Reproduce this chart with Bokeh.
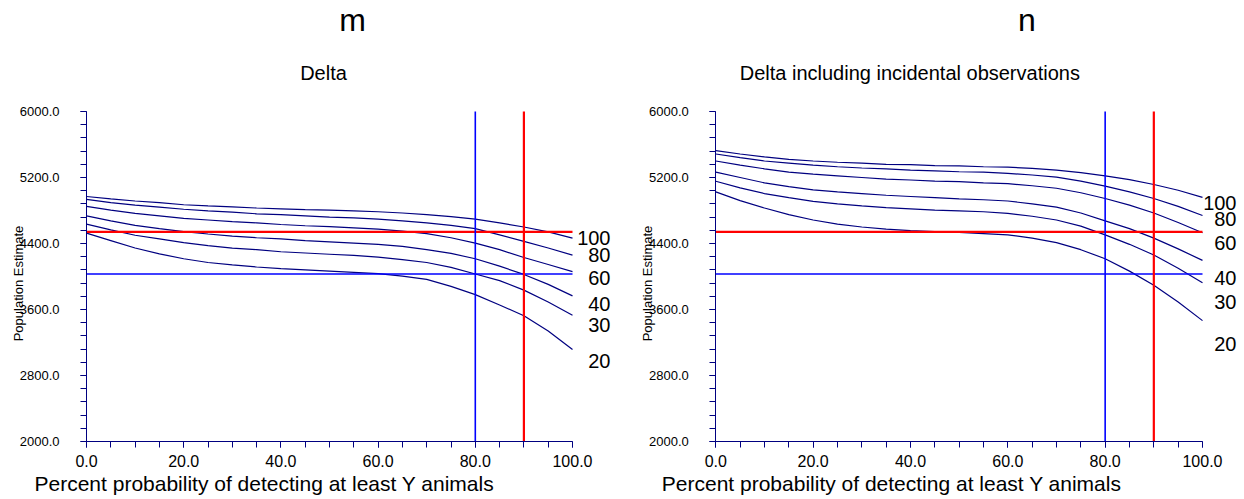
from bokeh.plotting import figure
from bokeh.layouts import row
from bokeh.models import (Range1d, FixedTicker, PrintfTickFormatter, Label,
                          LabelSet, ColumnDataSource)
from bokeh.core.properties import value
from bokeh.embed import file_html
from bokeh.resources import INLINE

# ---------------- data ----------------
x_pct = [0, 5, 10, 15, 20, 25, 30, 35, 40, 45, 50,
         55, 60, 65, 70, 75, 80, 85, 90, 95, 100]
series_names = ["100", "80", "60", "40", "30", "20"]

# panel m : Delta
delta_100 = [4970, 4940, 4915, 4895, 4870, 4855, 4845, 4830, 4820, 4810, 4805,
             4795, 4785, 4770, 4750, 4725, 4695, 4650, 4600, 4540, 4465]
delta_80 = [4935, 4895, 4865, 4840, 4815, 4795, 4780, 4760, 4750, 4735, 4720,
            4710, 4695, 4675, 4650, 4620, 4580, 4505, 4425, 4345, 4260]
delta_60 = [4850, 4805, 4765, 4735, 4705, 4685, 4665, 4650, 4630, 4615, 4605,
            4590, 4575, 4550, 4520, 4470, 4405, 4325, 4230, 4145, 4060]
delta_40 = [4735, 4675, 4620, 4580, 4545, 4515, 4490, 4470, 4455, 4435, 4420,
            4405, 4390, 4365, 4325, 4280, 4215, 4125, 4025, 3905, 3765]
delta_30 = [4635, 4565, 4500, 4455, 4410, 4375, 4345, 4325, 4300, 4285, 4270,
            4255, 4235, 4205, 4170, 4110, 4030, 3950, 3835, 3690, 3530]
delta_20 = [4525, 4435, 4345, 4275, 4215, 4170, 4140, 4115, 4095, 4080, 4065,
            4050, 4035, 4005, 3965, 3880, 3780, 3655, 3525, 3340, 3115]

# panel n : Delta including incidental observations
incid_100 = [5525, 5485, 5450, 5420, 5400, 5385, 5375, 5360, 5355, 5345, 5340,
             5330, 5325, 5310, 5290, 5260, 5220, 5175, 5115, 5045, 4960]
incid_80 = [5485, 5440, 5400, 5375, 5350, 5330, 5315, 5305, 5290, 5280, 5270,
            5265, 5250, 5230, 5205, 5155, 5095, 5025, 4945, 4850, 4740]
incid_60 = [5400, 5350, 5305, 5265, 5240, 5220, 5200, 5180, 5170, 5155, 5150,
            5135, 5125, 5100, 5070, 5015, 4945, 4865, 4770, 4655, 4530]
incid_40 = [5265, 5200, 5135, 5090, 5050, 5025, 5005, 4985, 4970, 4955, 4940,
            4930, 4915, 4880, 4840, 4770, 4675, 4580, 4465, 4335, 4195]
incid_30 = [5155, 5075, 5005, 4955, 4910, 4880, 4855, 4835, 4820, 4805, 4795,
            4785, 4765, 4730, 4685, 4610, 4505, 4390, 4260, 4100, 3925]
incid_20 = [5025, 4920, 4830, 4750, 4685, 4635, 4600, 4575, 4555, 4545, 4535,
            4520, 4505, 4465, 4410, 4325, 4215, 4065, 3895, 3690, 3465]

# reference lines: [blue, red]
ref_pct = [80, 90]
ref_pop = [4030, 4540]
ref_colors = ["#0000FF", "#FF0000"]

x_major = [0, 20, 40, 60, 80, 100]
x_minor = list(range(0, 101, 5))
y_major = [2000, 2800, 3600, 4400, 5200, 6000]
y_minor = list(range(2000, 6001, 160))
X_LO, X_HI = 0, 100
Y_LO, Y_HI = 2000, 6000

# label anchor heights (data units) for the curve labels
label_y_m = [4465, 4262, 3985, 3671, 3407, 2980]
label_y_n = [4892, 4697, 4404, 3976, 3692, 3182]

FONT = "Liberation Sans"
NAVY = "#000080"
H = 495
TOP_PX, BOT_PX = 111, 441          # pixel rows of Y_HI and Y_LO


def panel(letter, subtitle, curves, label_y, fig_w, axis_px, frame_px,
          letter_dx, sub_dx, xt_dx, yt_dx, lab_dx):
    ux = (X_HI - X_LO) / frame_px
    uy = (Y_HI - Y_LO) / (BOT_PX - TOP_PX)
    p = figure(width=fig_w, height=H,
               min_border_left=0, min_border_right=0,
               min_border_top=0, min_border_bottom=0,
               x_range=Range1d(X_LO - axis_px * ux, X_LO + (fig_w - axis_px) * ux),
               y_range=Range1d(Y_LO - (H - BOT_PX) * uy, Y_HI + TOP_PX * uy),
               output_backend="svg", toolbar_location=None,
               background_fill_color="white", border_fill_color="white")
    p.outline_line_color = None
    p.xgrid.visible = False
    p.ygrid.visible = False

    p.xaxis.fixed_location = Y_LO
    p.xaxis.bounds = (X_LO, X_HI)
    p.yaxis.fixed_location = X_LO
    p.yaxis.bounds = (Y_LO, Y_HI)

    for ax, maj, mnr, fs, so in ((p.xaxis[0], x_major, x_minor, "16px", 7),
                                 (p.yaxis[0], y_major, y_minor, "13px", 21)):
        ax.ticker = FixedTicker(ticks=maj, minor_ticks=mnr)
        ax.formatter = PrintfTickFormatter(format="%.1f")
        ax.axis_line_color = NAVY
        ax.major_tick_line_color = NAVY
        ax.minor_tick_line_color = NAVY
        ax.major_tick_in = 0
        ax.major_tick_out = 6
        ax.minor_tick_in = 0
        ax.minor_tick_out = 6
        ax.major_label_text_font = FONT
        ax.major_label_text_font_size = fs
        ax.major_label_text_color = "black"
        ax.major_label_standoff = so

    for ys in curves:
        p.line(x_pct, ys, line_color=NAVY, line_width=1.2)

    # reference lines
    p.segment(x0=[X_LO, X_LO], y0=ref_pop, x1=[X_HI, X_HI], y1=ref_pop,
              line_color=ref_colors, line_width=[1.6, 2.3])
    p.segment(x0=ref_pct, y0=[Y_LO, Y_LO], x1=ref_pct, y1=[Y_HI, Y_HI],
              line_color=ref_colors, line_width=[1.6, 2.2])

    src = ColumnDataSource(dict(x=[X_HI] * len(series_names), y=label_y,
                                t=series_names))
    p.add_layout(LabelSet(x="x", y="y", text="t", source=src, x_offset=lab_dx,
                          text_align="right", text_baseline="middle",
                          text_font=value(FONT),
                          text_font_size=value("20px"),
                          text_color="black"))

    p.add_layout(Label(x=X_LO, y=Y_HI, x_offset=letter_dx, y_offset=92,
                       text=letter, text_align="center",
                       text_baseline="middle", text_font=FONT,
                       text_font_size="32px", text_color="black"))
    p.add_layout(Label(x=X_LO, y=Y_HI, x_offset=sub_dx, y_offset=39,
                       text=subtitle, text_align="center",
                       text_baseline="middle", text_font=FONT,
                       text_font_size="20px", text_color="black"))
    p.add_layout(Label(x=X_LO, y=Y_LO, x_offset=xt_dx, y_offset=-42,
                       text="Percent probability of detecting at least Y animals",
                       text_align="left", text_baseline="middle",
                       text_font=FONT, text_font_size="21px",
                       text_color="black"))
    p.add_layout(Label(x=X_LO, y=Y_LO, x_offset=yt_dx, y_offset=158,
                       text="Population Estimate", angle=1.5708,
                       text_align="center", text_baseline="middle",
                       text_font=FONT, text_font_size="13px",
                       text_color="black"))
    return p


p1 = panel("m", "Delta",
           [delta_100, delta_80, delta_60, delta_40, delta_30, delta_20],
           label_y_m, 640, 86, 486, 266, 237, -52, -68, 38)
p2 = panel("n", "Delta including incidental observations",
           [incid_100, incid_80, incid_60, incid_40, incid_30, incid_20],
           label_y_n, 600, 75.3, 486.7, 311, 194, -54, -68, 34)

layout = row(p1, p2)
open("out.html", "w").write(file_html(layout, INLINE))
